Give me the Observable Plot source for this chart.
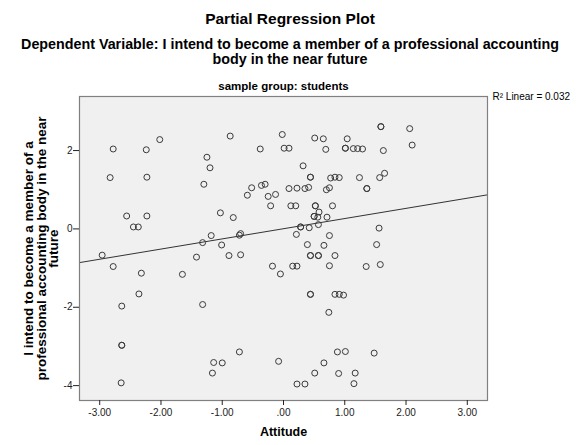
<!DOCTYPE html>
<html><head><meta charset="utf-8">
<script src="https://cdn.jsdelivr.net/npm/d3@7"></script>
<script src="https://cdn.jsdelivr.net/npm/@observablehq/plot@0.6"></script>
<style>
body{margin:0;background:#fff;font-family:"Liberation Sans",Arial,sans-serif;}
#wrap{position:relative;width:580px;height:445px;overflow:hidden;background:#fff}
.t{position:absolute;left:0;width:580px;text-align:center;font-weight:bold;color:#000;font-family:"Liberation Sans",Arial,sans-serif;white-space:nowrap}
#chart{position:absolute;left:0;top:72px}
</style></head><body>
<div id="wrap">
<div class="t" id="title" style="top:9.5px;font-size:15.5px;line-height:18px"></div>
<div class="t" id="dep" style="top:36.5px;font-size:14.3px;line-height:15.3px"></div>
<div id="chart"></div>
</div>
<script>
const titleLines = ["Partial Regression Plot"];
const depLines = ["Dependent Variable: I intend to become a member of a professional accounting", "body in the near future"];
const attitude = [
 -2.78,-2.24,-2.02,-2.83,-2.23,-2.56,-2.23,-2.45,-2.37,-1.25,
 -1.20,-1.30,-1.03,-1.18,-1.32,-1.01,-0.87,-0.02,0.51,0.65,
 1.04,-0.38,0.01,0.09,0.69,1.01,1.01,1.14,1.21,1.29,
 0.32,0.44,0.44,0.77,0.84,0.91,1.24,1.36,1.36,-0.52,
 -0.36,-0.30,-0.59,-0.25,-0.13,0.09,0.22,0.35,0.41,0.70,
 0.75,-0.21,0.12,0.20,0.52,0.52,0.58,0.80,0.50,0.50,
 0.56,0.71,-0.82,0.28,0.28,0.42,0.57,-0.72,-0.70,0.21,
 0.75,0.39,0.66,1.59,1.59,2.06,2.10,1.63,1.57,1.65,
 1.56,1.52,-2.96,-2.78,-2.32,-1.65,-1.42,-2.36,-2.64,-1.32,
 -2.64,-2.64,-2.65,-1.14,-1.16,-0.89,-0.70,-0.18,-0.05,0.15,
 0.22,0.44,0.44,0.57,0.57,0.84,0.75,1.35,0.44,0.44,
 0.84,0.91,0.98,0.74,-0.72,-1.00,-0.08,0.88,1.01,0.66,
 0.51,0.90,1.17,0.22,0.35,1.15,1.58,1.48
];
const intention = [
 2.04,2.02,2.28,1.31,1.32,0.33,0.33,0.05,0.05,1.83,
 1.56,1.14,0.41,-0.17,-0.35,-0.41,2.37,2.41,2.32,2.30,
 2.30,2.04,2.06,2.06,2.03,2.06,2.06,2.05,2.05,2.04,
 1.61,1.32,1.32,1.30,1.32,1.31,1.31,1.03,1.03,1.05,
 1.11,1.14,0.86,0.83,0.88,1.03,1.04,1.03,1.06,1.00,
 1.05,0.59,0.59,0.59,0.59,0.59,0.43,0.59,0.32,0.32,
 0.30,0.30,0.29,0.05,0.05,0.03,0.11,-0.16,-0.12,-0.14,
 -0.17,-0.40,-0.42,2.61,2.61,2.56,2.14,2.00,1.31,1.42,
 0.02,-0.40,-0.67,-0.96,-1.13,-1.16,-0.72,-1.66,-1.97,-1.93,
 -2.97,-2.97,-3.93,-3.41,-3.68,-0.68,-0.66,-0.95,-1.15,-0.95,
 -0.95,-0.68,-0.68,-0.68,-0.68,-0.68,-0.94,-0.96,-1.67,-1.67,
 -1.67,-1.67,-1.69,-2.13,-3.14,-3.42,-3.38,-3.14,-3.13,-3.42,
 -3.68,-3.69,-3.68,-3.96,-3.96,-3.95,-0.91,-3.17
];
const xTicks = [-3,-2,-1,0,1,2,3];
const yTicks = [-4,-2,0,2];
const fitX = [-3.33, 3.33];
const fitY = [-0.86, 0.87];
const xLabel = "Attitude";
const yLabel = "I intend to become a member of a\nprofessional accounting body in the near\nfuture";
const subTitle = "sample group: students";
const fitLabel = "R\u00B2 Linear = 0.032";

document.getElementById("title").textContent = titleLines.join(" ");
document.getElementById("dep").innerHTML = depLines.map(s => s.replace(/&/g,"&amp;").replace(/</g,"&lt;")).join("<br>");

const points = attitude.map((x, i) => ({x, y: intention[i]}));
const fit = fitX.map((x, i) => ({x, y: fitY[i]}));

const chart = Plot.plot({
  width: 580,
  height: 373,
  marginLeft: 79,
  marginRight: 93,
  marginTop: 24,
  marginBottom: 45,
  style: {fontFamily: "'Liberation Sans', Arial, sans-serif", color: "#222", background: "#fff", overflow: "visible"},
  x: {domain: [-3.33, 3.33]},
  y: {domain: [-4.38, 3.38]},
  marks: [
    Plot.frame({fill: "#f0f0f0", stroke: null}),
    Plot.line(fit, {x: "x", y: "y", stroke: "#333", strokeWidth: 1}),
    Plot.dot(points, {x: "x", y: "y", r: 3, stroke: "#3a3a3a", fill: "none", strokeWidth: 1}),
    Plot.frame({stroke: "#808080", strokeWidth: 1.2}),
    Plot.axisX({ticks: xTicks, tickSize: 5, tickPadding: 3, fontSize: 10, label: null,
      tickFormat: d => d === 0 ? ".00" : d.toFixed(2)}),
    Plot.axisY({ticks: yTicks, tickSize: 6, tickPadding: 1, fontSize: 10, label: null,
      tickFormat: d => String(d)}),
    Plot.text([xLabel], {frameAnchor: "bottom", dy: 35, fontSize: 12.5, fontWeight: "bold", fill: "#000"}),
    Plot.text([yLabel], {frameAnchor: "left", rotate: -90, dx: -38, textAnchor: "middle", lineAnchor: "middle", fontSize: 13.5, fontWeight: "bold", lineHeight: 0.95, fill: "#000"}),
    Plot.text([subTitle], {frameAnchor: "top", dy: -10.4, lineAnchor: "middle", fontSize: 11.5, fontWeight: "bold", fill: "#000"}),
    Plot.text([fitLabel], {frameAnchor: "top-right", dx: 5, dy: 0, textAnchor: "start", lineAnchor: "middle", fontSize: 10, fill: "#000"})
  ]
});
document.getElementById("chart").appendChild(chart);
</script>
</body></html>
